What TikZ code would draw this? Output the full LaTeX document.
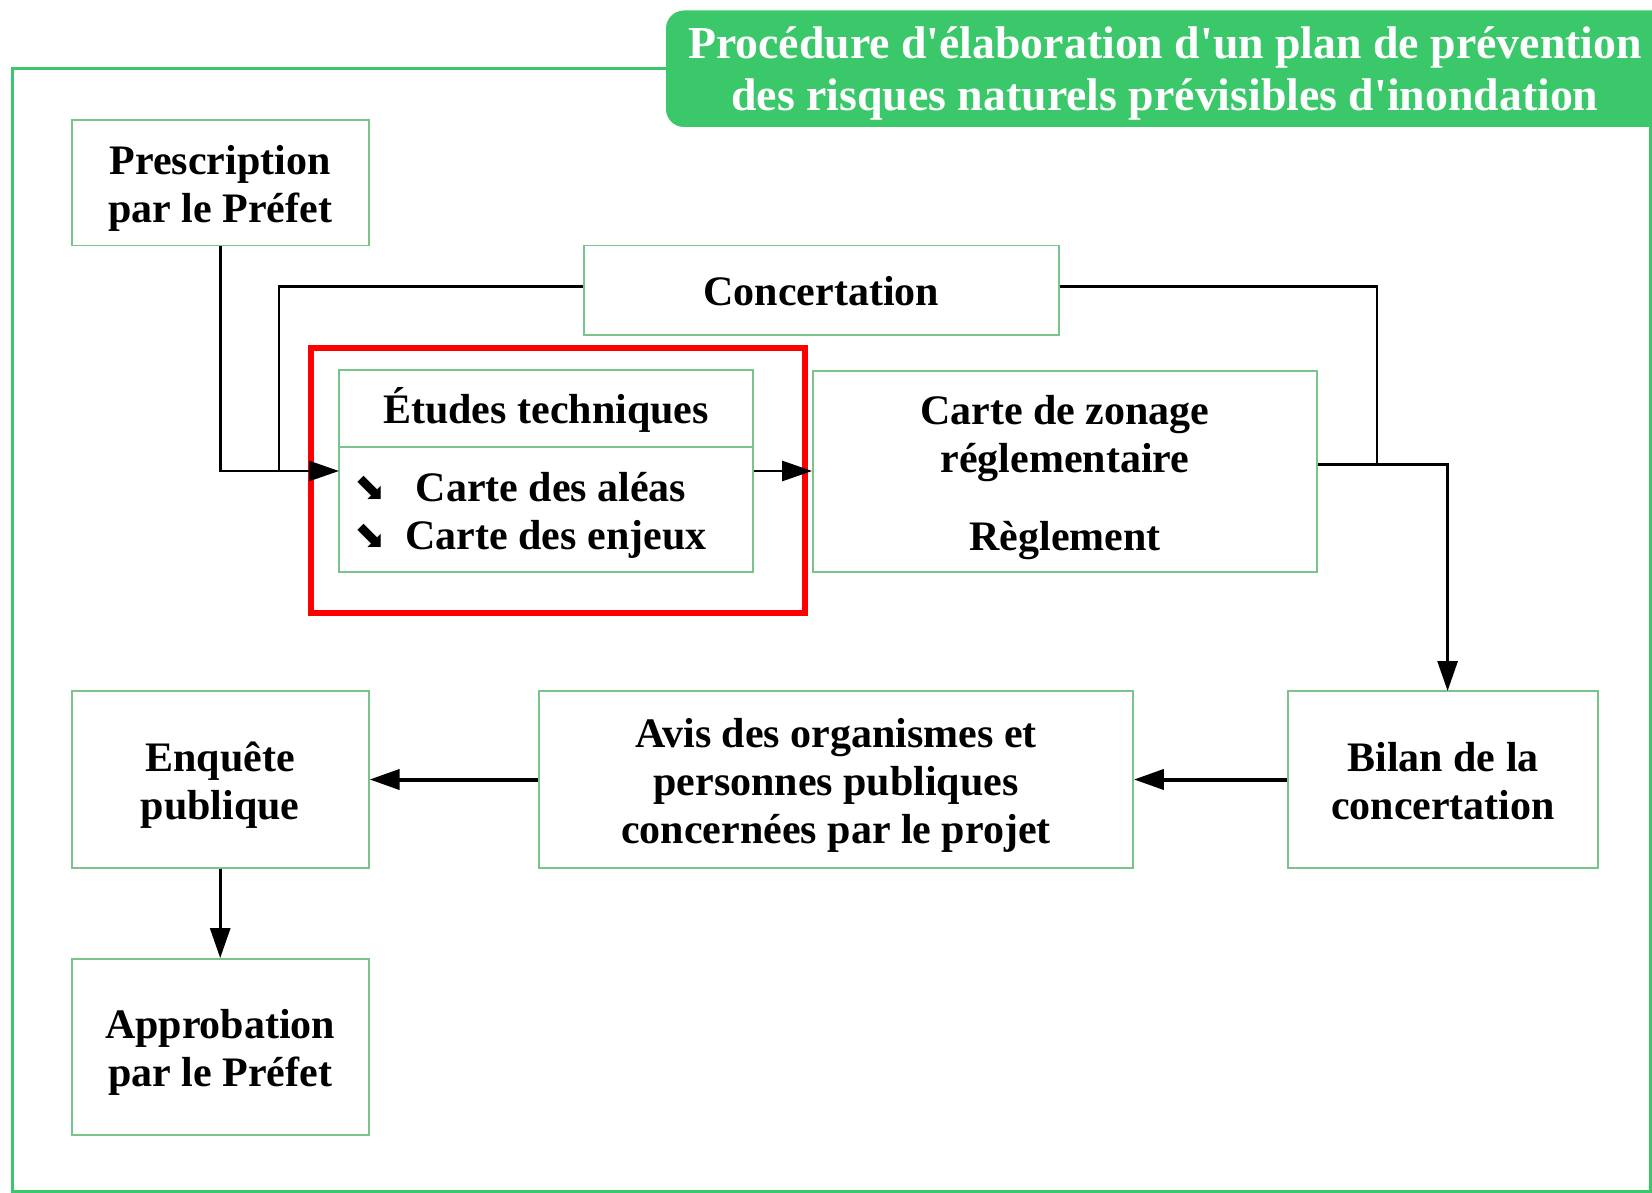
\documentclass[tikz,border=0pt]{standalone}
\usepackage{fontspec}
\setmainfont{Liberation Serif}
\newfontfamily\symfont{DejaVu Sans}
\usetikzlibrary{arrows.meta}
\definecolor{titlegreen}{RGB}{58,200,107}
\definecolor{boxgreen}{RGB}{120,196,140}
\begin{document}
\begin{tikzpicture}[x=1pt,y=-1pt,
  box/.style={draw=boxgreen,line width=1.8pt,fill=white,inner sep=0pt},
  btext/.style={align=center,font=\fontsize{42}{48}\selectfont\bfseries,inner sep=0pt},
  txt/.style={font=\fontsize{42}{48}\selectfont\bfseries,inner sep=0pt,anchor=base},
  sym/.style={font=\symfont\fontsize{38}{38}\selectfont,inner sep=0pt},
  conn/.style={line width=2.8pt,-{Triangle[length=30pt,width=20pt]}},
  plain/.style={line width=2.8pt}]
\useasboundingbox (0,0) rectangle (1652,1193);
\fill[white] (0,0) rectangle (1652,1193);
% outer frame
\draw[titlegreen,line width=3pt] (1660,68.5) -- (12.6,68.5) -- (12.6,1191) -- (1650,1191) -- (1650,68.5);
% title
\fill[titlegreen,rounded corners=18pt] (666,10.5) rectangle (1690,127);
\node[text=white,align=center,font=\fontsize{45.8}{52.7}\selectfont\bfseries,inner sep=0pt]
  (title) at (1165,73.5) {Procédure d\textquotesingle élaboration d\textquotesingle un plan de prévention\\des risques naturels prévisibles d\textquotesingle inondation};
% boxes
\node[box,minimum width=297pt,minimum height=125.5pt] (presc) at (220.2,182.8) {};
\node[btext] (presc-t) at ([yshift=-6pt]presc.center) {Prescription\\par le Préfet};
\node[box,minimum width=475pt,minimum height=89.5pt] (conc) at (821.3,290.3) {};
\node[btext] (conc-t) at ([yshift=-1pt]conc.center) {Concertation};
\node[box,minimum width=414pt,minimum height=76.7pt] (etudes) at (546,408.4) {};
\node[btext] (etudes-t) at ([yshift=-2pt]etudes.center) {Études techniques};
\node[box,minimum width=414pt,minimum height=125.3pt] (cartes) at (546,509.4) {};
\node[sym] (ar1) at (370,488) {⬊};
\node[sym] (ar2) at (370,536.5) {⬊};
\node[txt] (t1) at (551,501.5) {Carte des aléas};
\node[txt] (t2) at (556,549) {Carte des enjeux};
\node[box,minimum width=504pt,minimum height=201pt] (zonage) at (1065,471.5) {};
\node[btext] (zonage-t) at ([yshift=-6pt]zonage.center) {Carte de zonage\\réglementaire\\[30pt]Règlement};
\node[box,minimum width=310.5pt,minimum height=177pt] (bilan) at (1443,779.5) {};
\node[btext] (bilan-t) at ([yshift=-2pt]bilan.center) {Bilan de la\\concertation};
\node[box,minimum width=594pt,minimum height=177pt] (avis) at (836,779.5) {};
\node[btext] (avis-t) at ([yshift=-6pt]avis.center) {Avis des organismes et\\personnes publiques\\concernées par le projet};
\node[box,minimum width=297pt,minimum height=177pt] (enq) at (220.2,779.5) {};
\node[btext] (enq-t) at ([yshift=-6pt]enq.center) {Enquête\\publique};
\node[box,minimum width=297pt,minimum height=176pt] (appro) at (220.2,1047) {};
\node[btext] (appro-t) at ([yshift=-5pt]appro.center) {Approbation\\par le Préfet};
% red highlight
\draw[red,line width=6pt] (311,347.7) rectangle (805,613);
% connectors
\coordinate (cin) at (339,471);
\coordinate (cj) at (279,471);
\coordinate (cl) at (583.7,286.6);
\coordinate (cr) at (1377,464.6);
\coordinate (bn) at (1447.6,691);
\draw[conn] (presc.south) |- (cin);
\draw[plain] (conc.west |- cl) -| (cj);
\draw[plain] (conc.east |- cl) -| (cr);
\draw[conn] (zonage.east |- cr) -| (bn);
\draw[conn] (cartes.east |- cin) -- (zonage.west |- cin);
\draw[conn,line width=4pt] (bilan.west) -- (avis.east);
\draw[conn,line width=4pt] (avis.west) -- (enq.east);
\draw[conn] (enq.south) -- (appro.north);
\end{tikzpicture}
\end{document}
